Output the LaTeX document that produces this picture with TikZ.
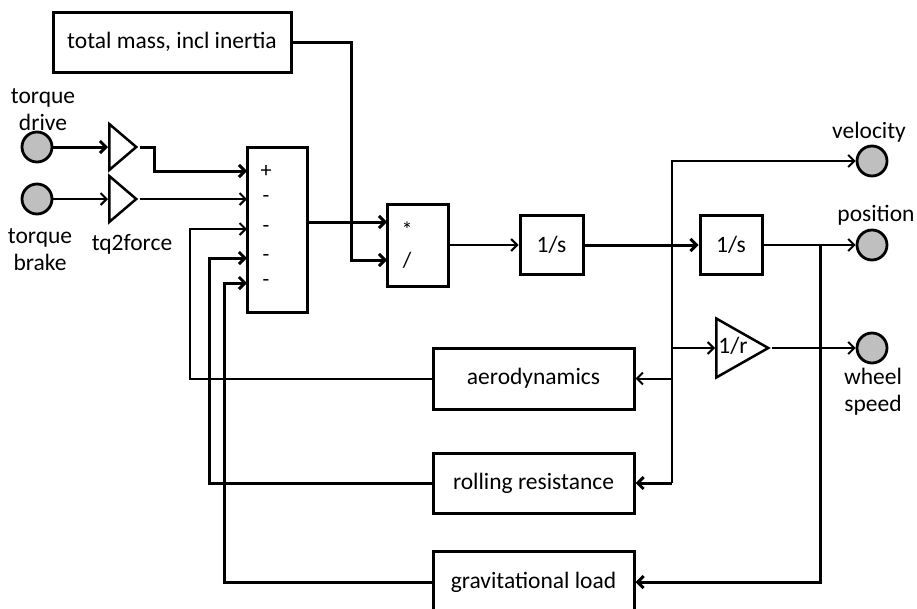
\documentclass[tikz,border=0pt]{standalone}
\usepackage{fontspec}
\setmainfont{Carlito}
\usetikzlibrary{arrows.meta, shapes.geometric}

\begin{document}
\begin{tikzpicture}[x=1pt, y=-1pt,
  font=\fontsize{23.5}{27}\selectfont,
  blk/.style={draw, line width=3pt, inner sep=0pt},
  port/.style={circle, draw, line width=2.8pt, fill=gray!50, minimum size=30pt, inner sep=0pt},
  gain/.style={isosceles triangle, isosceles triangle stretches, draw, line width=2.5pt, inner sep=0pt, anchor=west},
  sgn/.style={font=\fontsize{22}{22}\selectfont},
  sig/.style={-{Straight Barb[length=6pt,width=12pt]}},
  thk/.style={line width=3pt},
  thn/.style={line width=2pt}]

\useasboundingbox (0,0) rectangle (917,608);

% Draw input ports and gains
\node[port] (drv) at (37,147) {};
\node[port] (brk) at (37,199) {};
\node (ldrv) [align=center] at (43,110) {torque\\drive};
\node (lbrk) [align=center] at (40,250) {torque\\brake};
\node[gain, minimum height=27pt, minimum width=46pt] (g1) at (108,147) {};
\node[gain, minimum height=27pt, minimum width=46pt] (g2) at (108,199) {};
\node (lg) at (132,244) {tq2force};

% Draw mass block
\node[blk, minimum width=238pt, minimum height=60pt] (mass) at (172,42) {total mass, incl inertia};

% Draw sum block with its inputs
\node[blk, minimum width=60pt, minimum height=165pt] (sum) at (277,229.5) {};
\foreach \s/\y [count=\i] in {+/171,-/199,-/229,-/258,-/283} {
  \node[sgn] (s\i) at (266,\y) {\s};
  \coordinate (in\i) at (247,\y);
}

% Draw product and integrators
\node[blk, minimum width=61pt, minimum height=82pt] (mul) at (417.5,245) {};
\node[sgn] (m1) at (407,230) {*};
\node[sgn] (m2) at (407,260) {/};
\coordinate (mulA) at (387,222);
\coordinate (mulB) at (387,260);
\node[blk, minimum width=63pt, minimum height=59pt] (int1) at (551.5,245) {1/s};
\node[blk, minimum width=62pt, minimum height=59pt] (int2) at (731,245) {1/s};
\node[gain, minimum height=52pt, minimum width=59pt] (rinv) at (715,348) {};
\node (rtxt) at (733,346) {1/r};

% Draw load blocks
\node[blk, minimum width=201pt, minimum height=61pt] (aero) at (533.5,378.5) {aerodynamics};
\node[blk, minimum width=201pt, minimum height=60pt] (roll) at (533.5,483) {rolling resistance};
\node[blk, minimum width=201pt, minimum height=62pt] (grav) at (533.5,582) {gravitational load};

% Draw output ports
\node[port] (vel) at (872,161) {};
\node[port] (pos) at (872,245) {};
\node[port] (whl) at (872,348) {};
\node (lvel) at (869,132) {velocity};
\node (lpos) at (876,215) {position};
\node (lwhl) [align=center] at (873,392) {wheel\\speed};

% Branch points and corners
\coordinate (vb) at (672,245);
\coordinate (pb) at (820,245);
\coordinate (mk) at (351,260);
\coordinate (ra) at (190,229);
\coordinate (rr) at (209,258);
\coordinate (rg) at (224,283);

% Draw signal lines
\draw[thk,sig] (drv) -- (g1.west);
\draw[thk,sig] (g1.apex) -- ++(15,0) |- (in1);
\draw[thn,sig] (brk) -- (g2.west);
\draw[thn,sig] (g2.apex) -- (in2);
\draw[thk,sig] (mass.east) -| (mk) -- (mulB);
\draw[thk,sig] (sum.east |- mulA) -- (mulA);
\draw[thn,sig] (mul) -- (int1);
\draw[thk,sig] (int1) -- (int2);
\draw[thn,sig] (int2) -- (pos);
\draw[thn,sig] (vb) |- (vel);
\draw[thn,sig] (vb) |- (rinv.west);
\draw[thn,sig] (vb) |- (aero.east);
\draw[thn] (vb) -- (vb |- roll.east);
\draw[thk,sig] (vb |- roll.east) -- (roll.east);
\draw[thk,sig] (pb) |- (grav.east);
\draw[thn,sig] (rinv.apex) -- (whl);

% Draw feedback lines
\draw[thn,sig] (aero.west) -| (ra) -- (in3);
\draw[thk,sig] (roll.west) -| (rr) -- (in4);
\draw[thk,sig] (grav.west) -| (rg) -- (in5);

\end{tikzpicture}
\end{document}
